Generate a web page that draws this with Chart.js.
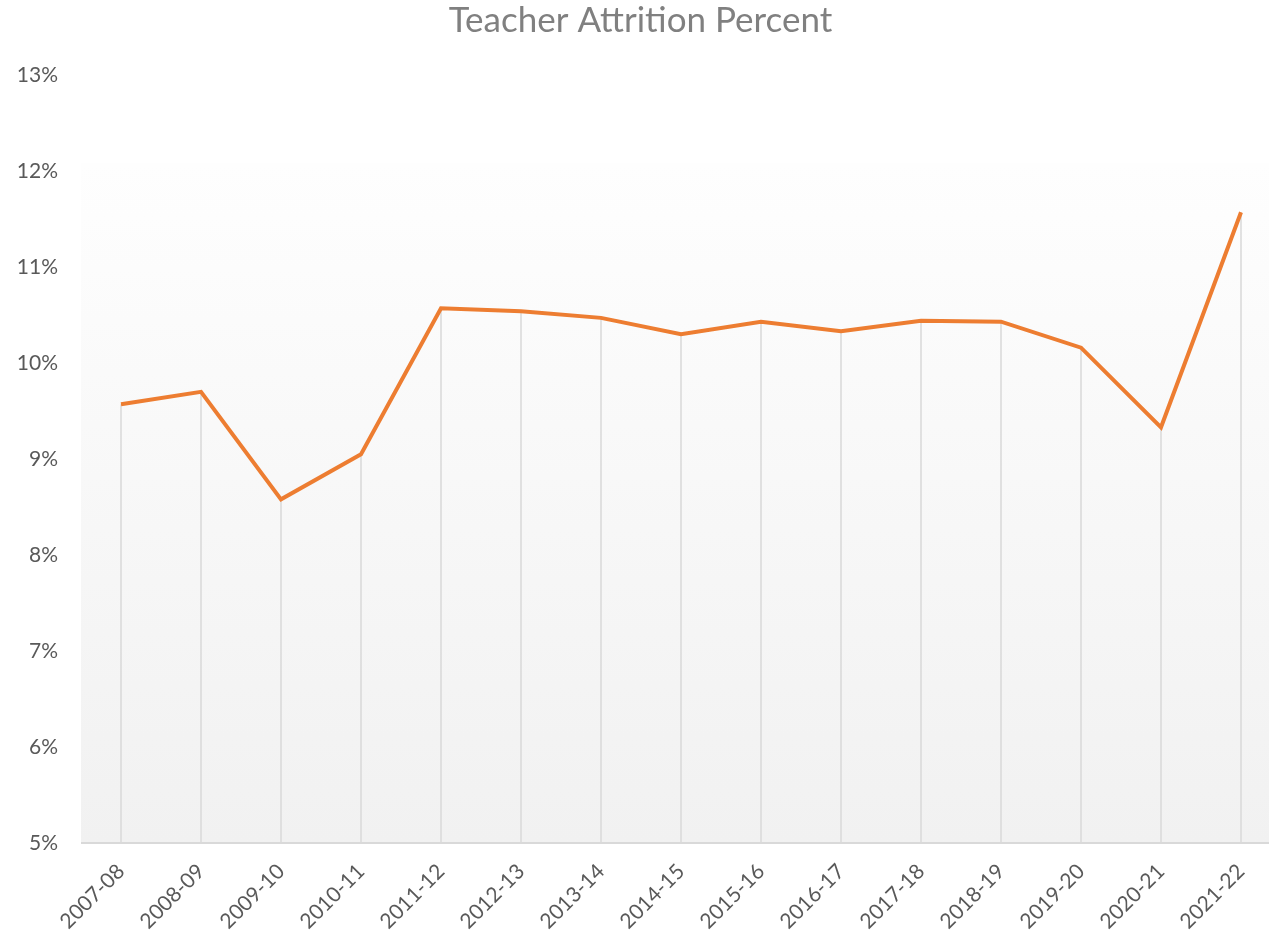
<!DOCTYPE html>
<html>
<head>
<meta charset="utf-8">
<script src="https://cdn.jsdelivr.net/npm/chart.js@4"></script>
<style>
html,body{margin:0;padding:0;background:#fff;overflow:hidden;}
#wrap{width:1281px;height:939px;position:relative;}
</style>
</head>
<body>
<div id="wrap"><canvas id="c"></canvas></div>
<script>
const categories = ["2007-08","2008-09","2009-10","2010-11","2011-12","2012-13","2013-14","2014-15","2015-16","2016-17","2017-18","2018-19","2019-20","2020-21","2021-22"];
const attritionPercent = [9.57, 9.70, 8.58, 9.05, 10.57, 10.54, 10.47, 10.30, 10.43, 10.33, 10.44, 10.43, 10.16, 9.33, 11.57];
const yTickValues = [5,6,7,8,9,10,11,12,13];
const titleText = "Teacher Attrition Percent";

const bgPlugin = {
  id: 'bgGradient',
  beforeDraw(chart) {
    const {ctx, chartArea, scales} = chart;
    const top = scales.y.getPixelForValue(12.08);
    const bottom = chartArea.bottom;
    const g = ctx.createLinearGradient(0, top, 0, bottom);
    g.addColorStop(0, '#fefefe');
    g.addColorStop(1, '#f1f1f1');
    ctx.save();
    ctx.fillStyle = g;
    ctx.fillRect(chartArea.left, top, chart.width - chartArea.left, bottom - top);
    ctx.restore();
  },
  beforeDatasetsDraw(chart) {
    const {ctx, chartArea} = chart;
    const meta = chart.getDatasetMeta(0);
    ctx.save();
    ctx.strokeStyle = '#d9d9d9';
    ctx.lineWidth = 1.5;
    meta.data.forEach(p => {
      ctx.beginPath();
      ctx.moveTo(p.x, p.y);
      ctx.lineTo(p.x, chartArea.bottom);
      ctx.stroke();
    });
    ctx.strokeStyle = '#d9d9d9';
    ctx.lineWidth = 2;
    ctx.beginPath();
    ctx.moveTo(chartArea.left, chartArea.bottom);
    ctx.lineTo(chart.width, chartArea.bottom);
    ctx.stroke();
    ctx.restore();
  }
};

new Chart(document.getElementById('c'), {
  type: 'line',
  data: {
    labels: categories,
    datasets: [{
      label: 'Attrition',
      data: attritionPercent,
      borderColor: '#ED7D31',
      borderWidth: 4,
      pointRadius: 0,
      tension: 0,
      fill: false
    }]
  },
  options: {
    responsive: true,
    maintainAspectRatio: false,
    animation: false,
    layout: {padding: {top: 0, left: 0, right: 0, bottom: 0}},
    plugins: {
      legend: {display: false},
      tooltip: {enabled: false},
      title: {
        display: true,
        text: titleText,
        color: '#808080',
        font: {family: 'Lato', size: 35, weight: 'normal'},
        padding: {top: 0, bottom: 33}
      }
    },
    scales: {
      x: {
        offset: true,
        grid: {display: false, drawTicks: false},
        border: {display: false},
        ticks: {
          color: '#595959',
          font: {family: 'Lato', size: 21},
          maxRotation: 45,
          minRotation: 45,
          padding: 16,
          autoSkip: false
        },
        afterFit(scale) { scale.height = 96; }
      },
      y: {
        min: 5,
        max: 13,
        afterBuildTicks(scale) { scale.ticks = yTickValues.map(v => ({value: v})); },
        grid: {display: false, drawTicks: false},
        border: {display: false},
        ticks: {
          color: '#595959',
          font: {family: 'Lato', size: 21},
          padding: 23,
          callback: v => v + '%'
        },
        afterFit(scale) { scale.width = 81; }
      }
    }
  },
  plugins: [bgPlugin]
});
</script>
</body>
</html>
